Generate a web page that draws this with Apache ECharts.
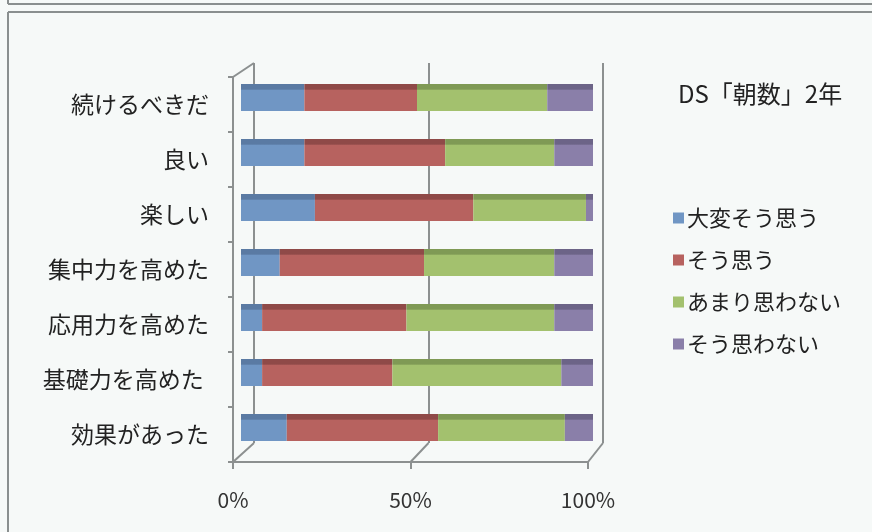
<!DOCTYPE html>
<html>
<head>
<meta charset="utf-8">
<script src="https://cdn.jsdelivr.net/npm/echarts@6/dist/echarts.min.js"></script>
<style>
html,body{margin:0;padding:0;background:#f6f9f8;}
#c{width:872px;height:532px;}
</style>
</head>
<body>
<div id="c"></div>
<script>
// categories listed top to bottom
var categories = ['続けるべきだ', '良い', '楽しい', '集中力を高めた', '応用力を高めた', '基礎力を高めた ', '効果があった'];
var seriesNames = ['大変そう思う', 'そう思う', 'あまり思わない', 'そう思わない'];
var veryMuch   = [18, 18, 21, 11, 6, 6, 13];
var agree      = [32, 40, 45, 41, 41, 37, 43];
var notMuch    = [37, 31, 32, 37, 42, 48, 36];
var disagree   = [13, 11, 2, 11, 11, 9, 8];
var xTicks = [0, 50, 100];
var titleText = 'DS「朝数」2年';

var colors = ['#7096c4', '#b7625f', '#a3c16e', '#8a7fa9'];
var topColors = ['#5a7aa3', '#8f4a48', '#7f9a55', '#6c6487'];
var font = '"Noto Sans CJK JP", "Noto Sans", sans-serif';

function grad(i) {
  return new echarts.graphic.LinearGradient(0, 0, 0, 1, [
    {offset: 0, color: topColors[i]},
    {offset: 0.2, color: topColors[i]},
    {offset: 0.21, color: colors[i]},
    {offset: 1, color: colors[i]}
  ]);
}

var values = [veryMuch, agree, notMuch, disagree];
var series = seriesNames.map(function (n, i) {
  return {
    name: n, type: 'bar', stack: 'all',
    xAxisIndex: 0, yAxisIndex: 0,
    barWidth: '49%',
    data: values[i],
    itemStyle: {color: grad(i)},
    animation: false
  };
});

var chart = echarts.init(document.getElementById('c'), null, {renderer: 'canvas'});
var option = {
  backgroundColor: '#f6f9f8',
  animation: false,
  color: colors,
  title: {
    text: titleText, left: 673, top: 77,
    textStyle: {fontFamily: font, fontSize: 24, fontWeight: 'normal', color: '#222'}
  },
  legend: {
    orient: 'vertical', left: 668, top: 200,
    icon: 'rect', itemWidth: 11, itemHeight: 11, itemGap: 16,
    data: seriesNames.map(function (n, i) { return {name: n, itemStyle: {color: colors[i]}}; }),
    textStyle: {fontFamily: font, fontSize: 22, color: '#222', lineHeight: 26, padding: [0, 0, 0, -2]}
  },
  grid: [
    {left: 241, right: 279, top: 70, bottom: 77},   // bars (front of depth)
    {left: 233, right: 284, top: 77, bottom: 70},   // front axes
    {left: 254, right: 269, top: 63, bottom: 89}    // back wall
  ],
  xAxis: [
    {gridIndex: 0, type: 'value', min: 0, max: 100, show: false},
    {gridIndex: 1, type: 'value', min: 0, max: 100, interval: 50,
      axisLine: {show: true, lineStyle: {color: '#8c9090', width: 2}},
      axisTick: {show: true, length: 7, lineStyle: {color: '#8c9090', width: 2}},
      splitLine: {show: false},
      axisLabel: {margin: 28, formatter: '{value}%', fontFamily: font, fontSize: 21, color: '#333'}
    },
    {gridIndex: 2, type: 'value', min: 0, max: 100, interval: 50,
      axisLine: {show: false}, axisTick: {show: false}, axisLabel: {show: false},
      splitLine: {show: true, lineStyle: {color: '#8c9090', width: 2}}
    }
  ],
  yAxis: [
    {gridIndex: 0, type: 'category', data: categories, inverse: true, show: false},
    {gridIndex: 1, type: 'category', data: categories, inverse: true,
      axisLine: {show: true, lineStyle: {color: '#8c9090', width: 2}},
      axisTick: {show: true, length: 5, lineStyle: {color: '#8c9090', width: 2}},
      axisLabel: {margin: 24, fontFamily: font, fontSize: 23, color: '#222'}
    },
    {gridIndex: 2, type: 'value', min: 0, max: 1, show: false}
  ],
  series: series
};
chart.setOption(option);

// 3D wall connectors (back wall corners to front axis)
var g = [];
var lineStyle = {stroke: '#8c9090', lineWidth: 2};
var fr = chart.getModel().getComponent('grid', 1).coordinateSystem.getRect();
xTicks.forEach(function (t) {
  var back = chart.convertToPixel({xAxisIndex: 2, yAxisIndex: 2}, [t, 0]);
  var front = chart.convertToPixel({xAxisIndex: 1, yAxisIndex: 1}, [t, categories.length - 0.5]);
  g.push({type: 'line', shape: {x1: back[0], y1: back[1], x2: front[0], y2: fr.y + fr.height}, style: lineStyle, silent: true});
});
var backTop = chart.convertToPixel({xAxisIndex: 2, yAxisIndex: 2}, [0, 1]);
g.push({type: 'line', shape: {x1: fr.x, y1: fr.y, x2: backTop[0], y2: backTop[1]}, style: lineStyle, silent: true});
// frame of the picture
var frameStyle = {stroke: '#8a8f8f', lineWidth: 2};
g.push({type: 'line', shape: {x1: 8, y1: 4, x2: 872, y2: 4}, style: frameStyle, silent: true});
g.push({type: 'line', shape: {x1: 8, y1: 0, x2: 8, y2: 4}, style: frameStyle, silent: true});
g.push({type: 'line', shape: {x1: 8, y1: 12, x2: 872, y2: 12}, style: frameStyle, silent: true});
g.push({type: 'line', shape: {x1: 8, y1: 12, x2: 8, y2: 532}, style: frameStyle, silent: true});
chart.setOption({graphic: g});
</script>
</body>
</html>
